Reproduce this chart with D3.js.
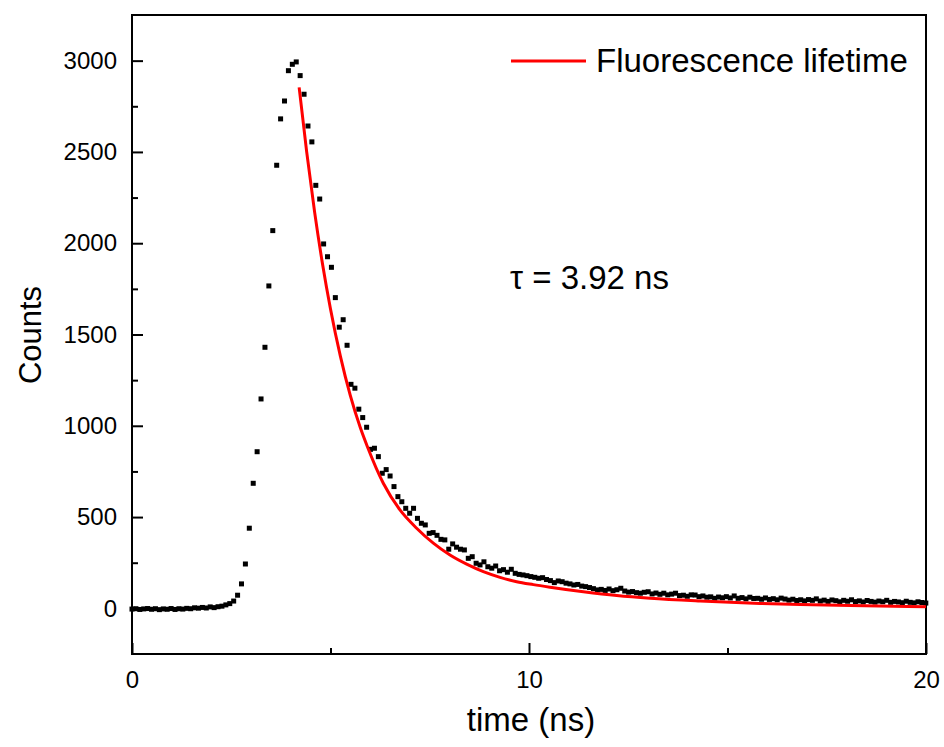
<!DOCTYPE html>
<html>
<head>
<meta charset="utf-8">
<script src="https://cdn.jsdelivr.net/npm/d3@7"></script>
<style>
  body { margin: 0; background: #fff; }
  svg { display: block; }
  text { font-family: "Liberation Sans", Arial, sans-serif; fill: #000; }
</style>
</head>
<body>
<svg id="chart" width="944" height="747"></svg>
<script>
/* Decaimento de fluorescência (TCSPC) + curva de ajuste */

const DT = 0.0985;   // largura do canal (ns)

// contagens por canal
const counts = [
  -4, -2, -6, -3, -1, -5, -2, -7, -3, -5, -1, -6, -2, -4, 0, -2, 3, 1, 5, 2,
  8, 4, 9, 12, 19, 26, 40, 72, 134, 243, 439, 685, 858, 1147, 1430, 1766, 2069, 2427, 2681, 2779,
  2945, 2980, 2993, 2918, 2816, 2642, 2555, 2317, 2242, 1996, 1926, 1868, 1702, 1540, 1581, 1441, 1227, 1206, 1091, 1045,
  992, 871, 877, 831, 740, 760, 725, 667, 612, 584, 548, 521, 548, 493, 466, 457, 411, 415, 400, 378,
  375, 324, 353, 335, 324, 320, 274, 283, 247, 238, 255, 228, 220, 232, 206, 212, 198, 214, 192, 186,
  183, 179, 174, 170, 165, 168, 158, 152, 141, 150, 146, 138, 134, 128, 131, 122, 119, 114, 108, 101,
  104, 98, 106, 97, 102, 110, 95, 89, 92, 86, 83, 88, 91, 79, 84, 77, 83, 74, 78, 83,
  70, 72, 66, 74, 73, 64, 68, 61, 63, 55, 62, 58, 64, 57, 68, 55, 59, 52, 61, 54,
  55, 50, 57, 49, 53, 47, 56, 51, 45, 50, 43, 47, 41, 48, 44, 52, 40, 45, 38, 46,
  42, 36, 44, 39, 47, 37, 41, 35, 43, 38, 34, 40, 36, 44, 33, 38, 35, 31, 39, 33,
  30, 36, 32, 29
];

// curva de ajuste (vermelha)
const fitTime   = [4.21, 4.40, 4.60, 4.80, 5.00, 5.25, 5.50, 5.75, 5.93, 6.33, 6.75, 7.17, 7.59, 8.01, 8.43,
                   8.85, 9.27, 9.69, 10.11, 10.53, 11.37, 12.21, 13.05, 14.31, 15.82, 16.83, 18.09, 20];
const fitCounts = [2854, 2500, 2170, 1885, 1640, 1380, 1165, 990, 885, 685, 539, 439, 357, 292, 242,
                   201, 170, 146, 130, 116, 91, 70, 55, 40, 27, 21, 15, 9];

const xMajor = [0, 10, 20];
const xMinor = [5, 15];
const yMajor = [0, 500, 1000, 1500, 2000, 2500, 3000];
const yMinor = [250, 750, 1250, 1750, 2250, 2750];

const legendLabel = "Fluorescence lifetime";
const tauLabel = "τ = 3.92 ns";

const L = 132, R = 926, T = 15, B = 654;
const svg = d3.select("#chart");

const x = d3.scaleLinear().domain([0, 20]).range([L, R]);
const y = d3.scaleLinear().domain([-250, 3250]).range([B, T]);

// eixos com ticks para dentro
const gx = svg.append("g").attr("transform", `translate(0,${B})`);
gx.call(d3.axisBottom(x).tickValues(xMajor).tickFormat(d3.format("d"))
  .tickSizeInner(-11).tickSizeOuter(0).tickPadding(17));
gx.append("g").call(d3.axisBottom(x).tickValues(xMinor).tickFormat("")
  .tickSizeInner(-6).tickSizeOuter(0));

const gy = svg.append("g").attr("transform", `translate(${L},0)`);
gy.call(d3.axisLeft(y).tickValues(yMajor).tickFormat(d3.format("d"))
  .tickSizeInner(-11).tickSizeOuter(0).tickPadding(15));
gy.append("g").call(d3.axisLeft(y).tickValues(yMinor).tickFormat("")
  .tickSizeInner(-6).tickSizeOuter(0));

svg.selectAll(".domain").remove();
svg.selectAll(".tick line").attr("stroke", "#000").attr("stroke-width", 2);
svg.selectAll(".tick text").style("font-size", "24px").attr("fill", "#000");

// moldura
svg.append("rect")
  .attr("x", L).attr("y", T).attr("width", R - L).attr("height", B - T)
  .attr("fill", "none").attr("stroke", "#000").attr("stroke-width", 2);

// pontos
const pts = counts.map((c, i) => ({ t: i * DT, c }));
svg.append("g").selectAll("rect").data(pts).join("rect")
  .attr("x", (d) => x(d.t) - 2.5).attr("y", (d) => y(d.c) - 2.5)
  .attr("width", 5).attr("height", 5).attr("fill", "#000");

// ajuste
const fit = fitTime.map((t, i) => ({ t, c: fitCounts[i] }));
svg.append("path").datum(fit)
  .attr("fill", "none").attr("stroke", "#ff0000").attr("stroke-width", 3)
  .attr("d", d3.line().x((d) => x(d.t)).y((d) => y(d.c)).curve(d3.curveMonotoneX));

// legenda
svg.append("line").attr("x1", 511).attr("x2", 586).attr("y1", 61).attr("y2", 61)
  .attr("stroke", "#ff0000").attr("stroke-width", 3);
svg.append("text").attr("x", 596).attr("y", 72).style("font-size", "33px").text(legendLabel);

svg.append("text").attr("x", 510).attr("y", 289).style("font-size", "33px").text(tauLabel);

// títulos dos eixos
svg.append("text").attr("x", 531).attr("y", 731).attr("text-anchor", "middle")
  .style("font-size", "33px").text("time (ns)");
svg.append("text").attr("transform", "translate(41,335) rotate(-90)")
  .attr("text-anchor", "middle").style("font-size", "31px").text("Counts");
</script>
</body>
</html>
